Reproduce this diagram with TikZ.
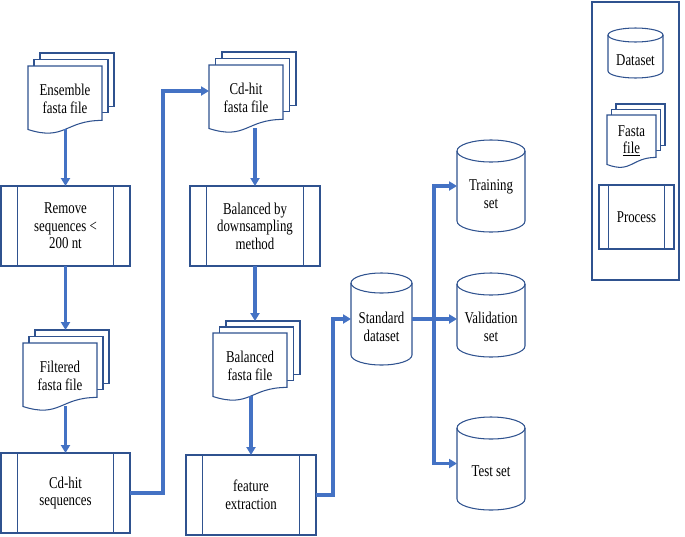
\documentclass[tikz,border=0pt]{standalone}
\usepackage{fontspec}
\setmainfont[FakeStretch=0.78]{Liberation Serif}
\usetikzlibrary{arrows.meta,calc}
\definecolor{conn}{HTML}{4472C4}
\definecolor{edge}{HTML}{2F528F}
\tikzset{
  shapeline/.style={draw=edge, line width=1.05pt, fill=white},
  connline/.style={draw=conn, line width=3.2pt},
  arr/.style={connline, -{Triangle[length=8pt,width=9pt]}},
  lbl/.style={align=center, font=\fontsize{16.5}{17.5}\selectfont, inner sep=0pt},
  box/.style={anchor=north west, inner sep=0pt, outer sep=0pt},
}
% process box: name, x, y, w, h, text
\newcommand\proc[6]{%
  \node[shapeline, box, minimum width=#4pt, minimum height=#5pt] (#1) at (#2,#3) {};
  \draw[draw=edge, line width=1.05pt]
    ($(#1.north west)!0.125!(#1.north east)$) -- ($(#1.south west)!0.125!(#1.south east)$)
    ($(#1.north east)!0.125!(#1.north west)$) -- ($(#1.south east)!0.125!(#1.south west)$);
  \node[lbl] at (#1.center) {#6};
}
% multi document: name, x, y, w, h, text, dx, dy
\newcommand\mdoc[8]{%
  \node[shapeline, box, minimum width=#4pt, minimum height=0.78*#5pt] (#1b) at (#2+2*#7,#3-2*#8) {};
  \node[shapeline, box, minimum width=#4pt, minimum height=0.78*#5pt] (#1m) at (#2+#7,#3-#8) {};
  \draw[shapeline] (#2,#3) -- (#2+#4,#3) -- (#2+#4,#3+0.8*#5)
     .. controls (#2+0.5*#4,#3+0.8*#5) and (#2+0.5*#4,#3+1.108*#5) .. (#2,#3+0.934*#5) -- cycle;
  \node[box, minimum width=#4pt, minimum height=0.93*#5pt] (#1) at (#2,#3) {};
  \node[lbl] at (#2+0.5*#4,#3+0.48*#5) {#6};
}
% cylinder: name, x, top, w, h, ry, text, text dy
\newcommand\cyl[8]{%
  \path[shapeline] (#2,#3+#6) -- (#2,#3+#5-#6)
     arc[start angle=180, end angle=0, x radius=#4/2, y radius=#6]
     -- (#2+#4,#3+#6)
     arc[start angle=0, end angle=-180, x radius=#4/2, y radius=#6] -- cycle;
  \draw[draw=edge, line width=1.05pt] (#2+#4,#3+#6)
     arc[start angle=0, end angle=180, x radius=#4/2, y radius=#6];
  \node[box, minimum width=#4pt, minimum height=#5pt] (#1) at (#2,#3) {};
  \node[lbl] at (#2+0.5*#4,#3+0.5*#5+#8) {#7};
}
\begin{document}
\begin{tikzpicture}[x=1pt,y=-1pt]
\useasboundingbox (0,0) rectangle (685,536);
\fill[white] (0,0) rectangle (685,536);

% column 1
\mdoc{ens}{28}{66}{74}{68}{Ensemble\\fasta file}{6}{6.5}
\proc{rem}{1}{186}{129}{80}{Remove\\sequences <\\200 nt}
\mdoc{filt}{23}{343}{74}{68}{Filtered\\fasta file}{6}{6.5}
\proc{cdseq}{1}{453}{129}{80}{Cd-hit\\sequences}

% column 2
\mdoc{cdfile}{209}{65}{74}{68}{Cd-hit\\fasta file}{6.5}{6.5}
\proc{bal}{190}{186}{130}{80}{Balanced by\\downsampling\\method}
\mdoc{balf}{213}{333}{74}{68}{Balanced\\fasta file}{6.5}{6}
\proc{feat}{186}{455}{130}{80}{feature\\extraction}

% datasets
\cyl{std}{351}{273}{61}{92}{10}{Standard\\dataset}{8}
\cyl{train}{457}{140}{68}{92}{11}{Training\\set}{8}
\cyl{val}{457}{273}{68}{84}{11}{Validation\\set}{12}
\cyl{test}{457}{417}{68}{93}{11}{Test set}{8}

% legend
\node[draw=edge, line width=1.05pt, box, minimum width=87pt, minimum height=278pt] (legend) at (592,2) {};
\cyl{lgdata}{608}{28}{55}{50}{7}{Dataset}{7}
\mdoc{lgfile}{607}{115}{49}{53}{Fasta\\\underline{file}}{4.5}{5.5}
\proc{lgproc}{599}{185}{75}{64}{Process}

% connectors
\draw[arr] (ens.south -| rem.north) -- (rem.north);
\draw[arr] (rem.south) -- (rem.south |- filtb.north);
\draw[arr] (filt.south -| cdseq.north) -- (cdseq.north);
\coordinate (j1) at (163,91);
\draw[arr] (cdseq.east) -| (j1) -- (j1 -| cdfile.west);
\draw[arr] (cdfile.south -| bal.north) -- (bal.north);
\draw[arr] (bal.south) -- (bal.south |- balfb.north);
\draw[arr] (balf.south -| feat.north) -- (feat.north);
\coordinate (j2) at (333,318);
\draw[arr] (feat.east) -| (j2 |- std.west) -- (std.west);
\coordinate (split) at ([xshift=22pt]std.east);
\draw[connline] (std.east) -- (split);
\draw[arr] (split) |- (train.west);
\draw[arr] (split) -- (val.west |- split);
\draw[arr] (split) |- (test.west);
\end{tikzpicture}
\end{document}
